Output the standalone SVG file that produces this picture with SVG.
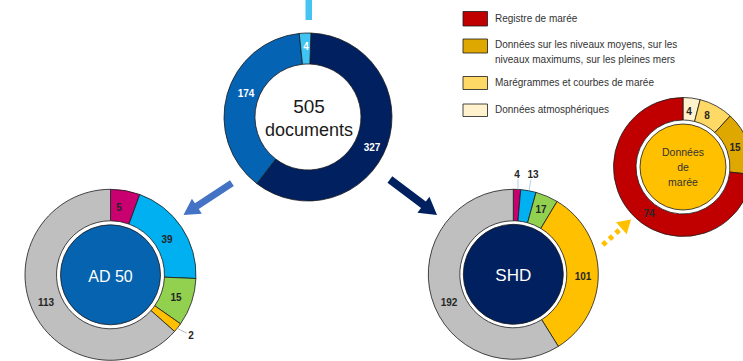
<svg xmlns="http://www.w3.org/2000/svg" width="743" height="361" viewBox="0 0 743 361">
<style>
.sl{stroke:#1a1a1a;stroke-width:0.8;stroke-linejoin:round}
.lab{font-family:"Liberation Sans",Arial,sans-serif;font-size:10px;font-weight:bold;fill:#262626;text-anchor:middle}
.labw{font-family:"Liberation Sans",Arial,sans-serif;font-size:10px;font-weight:bold;fill:#ffffff;text-anchor:middle}
.leg{font-family:"Liberation Sans",Arial,sans-serif;font-size:10px;fill:#333333}
.ctr{font-family:"Liberation Sans",Arial,sans-serif;text-anchor:middle}
.lead{fill:none;stroke-width:0.8}
</style>
<rect width="743" height="361" fill="#ffffff"/>

<g id="connectors">
  <rect x="305.5" y="0" width="6.5" height="20" fill="#45c3f3"/>
  <g transform="translate(183.5,215) rotate(146.6)">
    <polygon points="0,0 -16,-9 -16,-3.5 -58,-3.5 -58,3.5 -16,3.5 -16,9" fill="#4472c4"/>
  </g>
  <g transform="translate(437,215) rotate(37)">
    <polygon points="0,0 -17,-10 -17,-4 -59,-4 -59,4 -17,4 -17,10" fill="#002060"/>
  </g>
  <g transform="translate(631,219.5) rotate(-42)">
    <line x1="-38" y1="0" x2="-13" y2="0" stroke="#ffc000" stroke-width="5" stroke-dasharray="4.5 4.3"/>
    <polygon points="0,0 -13,-8 -13,8" fill="#ffc000"/>
  </g>
</g>

<g id="node-total">
  <path class="sl" fill="#002060" d="M310.93,33.05 A84,84 0 1 1 256.86,183.64 L275.73,159.05 A53,53 0 1 0 309.85,64.03 Z"/>
  <path class="sl" fill="#0563b4" d="M256.86,183.64 A84,84 0 0 1 299.22,33.46 L302.46,64.29 A53,53 0 0 0 275.73,159.05 Z"/>
  <path class="sl" fill="#40c4f4" d="M299.22,33.46 A84,84 0 0 1 310.93,33.05 L309.85,64.03 A53,53 0 0 0 302.46,64.29 Z"/>
  <text class="labw" x="306" y="50" font-size="9">4</text>
  <text class="labw" x="246" y="97">174</text>
  <text class="labw" x="372" y="151">327</text>
  <text class="ctr" x="309" y="113" font-size="19" fill="#1a1a1a">505</text>
  <text class="ctr" x="309" y="136" font-size="18" fill="#1a1a1a">documents</text>
</g>

<g id="node-ad50">
  <path class="sl" fill="#c9006f" d="M110.5,189.3 A85.5,85.5 0 0 1 139.74,194.46 L128.97,224.06 A54,54 0 0 0 110.5,220.8 Z"/>
  <path class="sl" fill="#00b0f0" d="M139.74,194.46 A85.5,85.5 0 0 1 195.92,278.53 L164.45,277.16 A54,54 0 0 0 128.97,224.06 Z"/>
  <path class="sl" fill="#92d050" d="M195.92,278.53 A85.5,85.5 0 0 1 180.54,323.84 L154.73,305.77 A54,54 0 0 0 164.45,277.16 Z"/>
  <path class="sl" fill="#ffc000" d="M180.54,323.84 A85.5,85.5 0 0 1 174.54,331.45 L150.94,310.58 A54,54 0 0 0 154.73,305.77 Z"/>
  <path class="sl" fill="#bfbfbf" d="M174.54,331.45 A85.5,85.5 0 1 1 110.5,189.3 L110.5,220.8 A54,54 0 1 0 150.94,310.58 Z"/>
  <circle cx="110.5" cy="274.8" r="50" fill="#0563b0" stroke="#1a1a1a" stroke-width="0.8"/>
  <text class="ctr" x="110.5" y="282" font-size="16" fill="#ffffff">AD 50</text>
  <text class="lab" x="119" y="210.5">5</text>
  <text class="lab" x="167" y="243">39</text>
  <text class="lab" x="176" y="301">15</text>
  <text class="lab" x="46" y="305.5">113</text>
  <polyline class="lead" stroke="#a6a6a6" points="176.5,328 186.5,333"/>
  <text class="lab" x="191" y="339">2</text>
</g>

<g id="node-shd">
  <path class="sl" fill="#c9006f" d="M513.3,189.3 A85,85 0 0 1 520.71,189.62 L517.96,221.0 A53.5,53.5 0 0 0 513.3,220.8 Z"/>
  <path class="sl" fill="#00b0f0" d="M520.71,189.62 A85,85 0 0 1 536.02,192.39 L527.6,222.75 A53.5,53.5 0 0 0 517.96,221.0 Z"/>
  <path class="sl" fill="#92d050" d="M536.02,192.39 A85,85 0 0 1 557.08,201.44 L540.85,228.44 A53.5,53.5 0 0 0 527.6,222.75 Z"/>
  <path class="sl" fill="#ffc000" d="M557.08,201.44 A85,85 0 0 1 558.34,346.38 L541.65,319.67 A53.5,53.5 0 0 0 540.85,228.44 Z"/>
  <path class="sl" fill="#bfbfbf" d="M558.34,346.38 A85,85 0 1 1 513.3,189.3 L513.3,220.8 A53.5,53.5 0 1 0 541.65,319.67 Z"/>
  <circle cx="513.3" cy="274.3" r="50" fill="#002060" stroke="#1a1a1a" stroke-width="0.8"/>
  <text class="ctr" x="513.3" y="281" font-size="17" fill="#ffffff">SHD</text>
  <polyline class="lead" stroke="#9dc3e6" points="518,179 518,189.5"/>
  <polyline class="lead" stroke="#9dc3e6" points="531,179.5 529,190.5"/>
  <text class="lab" x="517" y="177.5" font-weight="normal" font-size="11">4</text>
  <text class="lab" x="533" y="177.5" font-weight="normal" font-size="11">13</text>
  <text class="lab" x="541" y="213">17</text>
  <text class="lab" x="583" y="279.5">101</text>
  <text class="lab" x="449" y="305.5">192</text>
</g>

<g id="node-maree">
  <path class="sl" fill="#fff2cc" d="M683,97.5 A69.5,69.5 0 0 1 700.17,99.65 L694.61,121.45 A47,47 0 0 0 683,120 Z"/>
  <path class="sl" fill="#ffd966" d="M700.17,99.65 A69.5,69.5 0 0 1 730.22,116.01 L714.93,132.52 A47,47 0 0 0 694.61,121.45 Z"/>
  <path class="sl" fill="#dfa800" d="M730.22,116.01 A69.5,69.5 0 0 1 752.09,174.51 L729.73,172.08 A47,47 0 0 0 714.93,132.52 Z"/>
  <path class="sl" fill="#c00000" d="M752.09,174.51 A69.5,69.5 0 1 1 683,97.5 L683,120 A47,47 0 1 0 729.73,172.08 Z"/>
  <circle cx="683" cy="167" r="43" fill="#ffc000" stroke="#1a1a1a" stroke-width="0.8"/>
  <text class="ctr" x="683" y="156" font-size="10.5" fill="#333333">Données</text>
  <text class="ctr" x="683" y="171" font-size="10.5" fill="#333333">de</text>
  <text class="ctr" x="683" y="186" font-size="10.5" fill="#333333">marée</text>
  <text class="lab" x="689" y="114.5">4</text>
  <text class="lab" x="707" y="118.5">8</text>
  <text class="lab" x="735" y="150.5">15</text>
  <text class="lab" x="649" y="216.5">74</text>
</g>

<g id="legend">
  <rect class="sl" x="463" y="11.5" width="24.5" height="14.5" fill="#c00000"/>
  <text class="leg" x="495" y="21.5">Registre de marée</text>
  <rect class="sl" x="463" y="39" width="24.5" height="14" fill="#dfa800"/>
  <text class="leg" x="495" y="47.5">Données sur les niveaux moyens, sur les</text>
  <text class="leg" x="495" y="62.5">niveaux maximums, sur les pleines mers</text>
  <rect class="sl" x="463" y="76.5" width="24.5" height="13" fill="#ffd966"/>
  <text class="leg" x="495" y="86">Marégrammes et courbes de marée</text>
  <rect class="sl" x="463" y="104" width="24.5" height="12.5" fill="#fff2cc"/>
  <text class="leg" x="495" y="112.5">Données atmosphériques</text>
</g>
</svg>
